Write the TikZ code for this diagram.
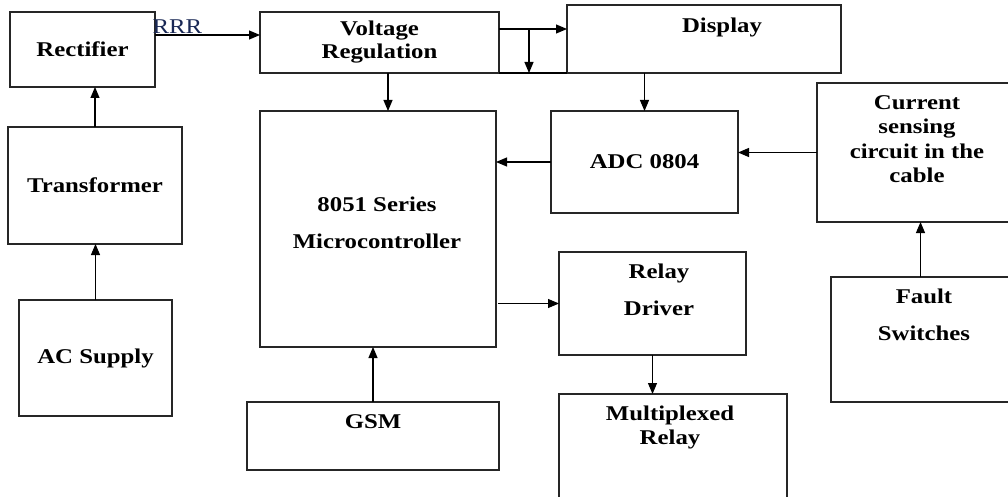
\documentclass[tikz,border=0pt]{standalone}
\usepackage{fontspec}
\setmainfont{Liberation Serif}[FakeStretch=1.18]
\usetikzlibrary{arrows.meta}

\begin{document}
\begin{tikzpicture}[
  x=1pt, y=-1pt,
  blk/.style={rectangle, draw=black!85, line width=1.1pt, inner sep=0pt, outer sep=0pt,
              align=center, font=\fontsize{21}{25}\selectfont\bfseries},
  lbl/.style={inner sep=0pt, anchor=north, align=center,
              font=\fontsize{21}{25}\selectfont\bfseries},
  >={Triangle[length=11pt, width=9pt]}, line width=1.1pt,
]
  \clip (0,0) rectangle (1008,497);

  % Power supply column on the left
  \node[blk, minimum width=145pt, minimum height=75pt] at (82.5,49.5) (rect) {Rectifier};
  \node[blk, minimum width=174pt, minimum height=117pt] at (95,185.5) (trf) {Transformer};
  \node[blk, minimum width=153pt, minimum height=116pt] at (95.5,358) (ac) {AC Supply};

  % Middle column
  \node[blk, minimum width=239pt, minimum height=61pt] at (379.5,42.5) (vreg) {Voltage\\[-2pt]Regulation};
  \node[blk, minimum width=236pt, minimum height=236pt] at (378,229) (mcu) {};
  \node[lbl] at (377,196) (mcu_t) {8051 Series\\[12pt]Microcontroller};
  \node[blk, minimum width=252pt, minimum height=68pt] at (373,436) (gsm) {};
  \node[lbl] at (373,414) (gsm_t) {GSM};

  % Display, ADC and relay boxes
  \node[blk, minimum width=274pt, minimum height=68pt] at (704,39) (disp) {};
  \node[lbl] at (722,17) (disp_t) {Display};
  \node[blk, minimum width=187pt, minimum height=102pt] at (644.5,162) (adc) {ADC 0804};
  \node[blk, minimum width=187pt, minimum height=103pt] at (652.5,303.5) (rly) {};
  \node[lbl] at (659,263) (rly_t) {Relay\\[12pt]Driver};
  \node[blk, minimum width=228pt, minimum height=116pt] at (673,452) (mux) {};
  \node[lbl] at (670,405) (mux_t) {Multiplexed\\[-1pt]Relay};

  % Right column, cut by the page edge
  \node[blk, minimum width=202pt, minimum height=139pt] at (918,152.5) (cur) {};
  \node[lbl] at (917,95) (cur_t) {Current\\[-0.5pt]sensing\\[-0.5pt]circuit in the\\[-1pt]cable};
  \node[blk, minimum width=179pt, minimum height=125pt] at (920.5,339.5) (flt) {};
  \node[lbl] at (924,288) (flt_t) {Fault\\[12pt]Switches};

  % Arrows going up
  \foreach \a/\b in {ac/trf, trf/rect, gsm/mcu, flt/cur}
    \draw[->] (\a.north) -- (\a.north |- \b.south);

  % Arrows going left
  \foreach \a/\b in {cur/adc, adc/mcu}
    \draw[->] (\a.west) -- (\a.west -| \b.east);

  % Rectifier to regulator
  \draw[->] ([yshift=14.5pt]rect.east) -- ([yshift=14.5pt]rect.east -| vreg.west)
    node[at start, anchor=base west, inner sep=0pt, xshift=-3pt, yshift=1pt,
         font=\fontsize{21}{25}\selectfont, text={rgb,255:red,25;green,40;blue,85}] (rrr) {RRR};

  % Regulator feeds display, controller and ADC
  \coordinate (split) at (529,29);
  \draw[->] ([yshift=13.5pt]vreg.east) -- ([yshift=13.5pt]vreg.east -| disp.west);
  \draw[->] (split) -- (split |- vreg.south);
  \draw (vreg.south east) -- (disp.south west);
  \draw[->] ([xshift=8.5pt]vreg.south) -- ([xshift=8.5pt]vreg.south |- mcu.north);
  \draw[->] (disp.south -| adc.north) -- (adc.north);

  % Controller to relays
  \draw[->] ([xshift=2pt]rly.west -| mcu.east) -- (rly.west);
  \draw[->] (rly.south) -- (rly.south |- mux.north);
\end{tikzpicture}
\end{document}
